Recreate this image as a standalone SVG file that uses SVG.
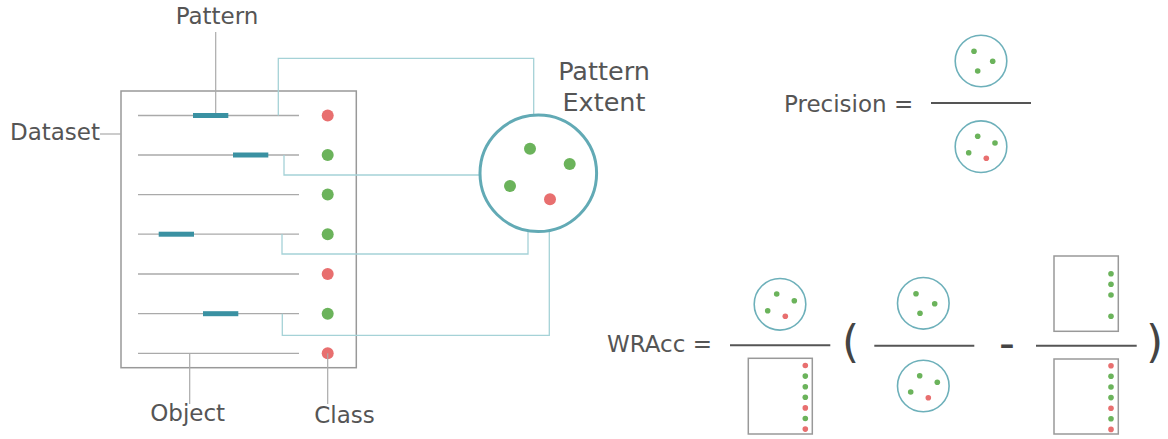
<svg xmlns="http://www.w3.org/2000/svg" width="1168" height="439" viewBox="0 0 1168 439">
<style>
.lbl{font-family:"DejaVu Sans","Liberation Sans",sans-serif;fill:#555;font-size:23px}
.big{font-family:"DejaVu Sans","Liberation Sans",sans-serif;fill:#444;font-size:44px}
.row{stroke:#aaa;stroke-width:1.3;fill:none}
.box{stroke:#999;stroke-width:1.5;fill:none}
.bar{fill:#3a91a2}
.g{fill:#6bb35b}
.r{fill:#e86f6f}
.conn{stroke:#a5d2d7;stroke-width:1.3;fill:none}
.lead{stroke:#aaa;stroke-width:1.2;fill:none}
.sc{stroke:#6db0ba;stroke-width:1.6;fill:#fff}
.frac{stroke:#555;stroke-width:2}
</style>

<g id="dataset">
<rect class="box" x="121" y="91" width="235.3" height="276.7"/>
<line class="row" x1="138" y1="115.5" x2="299" y2="115.5"/>
<line class="row" x1="138" y1="155" x2="299" y2="155"/>
<line class="row" x1="138" y1="194.6" x2="299" y2="194.6"/>
<line class="row" x1="138" y1="234.2" x2="299" y2="234.2"/>
<line class="row" x1="138" y1="274" x2="299" y2="274"/>
<line class="row" x1="138" y1="313.7" x2="299" y2="313.7"/>
<line class="row" x1="138" y1="353.3" x2="299" y2="353.3"/>
<rect class="bar" x="193" y="113" width="35.3" height="5"/>
<rect class="bar" x="233" y="152.5" width="35.3" height="5"/>
<rect class="bar" x="158.7" y="231.7" width="35.3" height="5"/>
<rect class="bar" x="203" y="311.2" width="35.3" height="5"/>
<circle class="r" cx="327.7" cy="115.5" r="6"/>
<circle class="g" cx="327.7" cy="155" r="6"/>
<circle class="g" cx="327.7" cy="194.6" r="6"/>
<circle class="g" cx="327.7" cy="234.2" r="6"/>
<circle class="r" cx="327.7" cy="274" r="6"/>
<circle class="g" cx="327.7" cy="313.7" r="6"/>
<circle class="r" cx="327.7" cy="353.3" r="6"/>
</g>

<g id="connectors">
<polyline class="conn" points="278.3,115.5 278.3,58.3 533.7,58.3 533.7,115.2"/>
<polyline class="conn" points="284,155 284,175 480,175"/>
<polyline class="conn" points="282,234 282,254 528,254 528,230.7"/>
<polyline class="conn" points="282.3,313.7 282.3,335.3 549.3,335.3 549.3,230.5"/>
<line class="lead" x1="215.7" y1="32" x2="215.7" y2="113"/>
<line class="lead" x1="100" y1="134" x2="121" y2="134"/>
<line class="lead" x1="189.7" y1="353.3" x2="189.7" y2="404"/>
<line class="lead" x1="327.7" y1="353.3" x2="327.7" y2="404"/>
</g>

<g id="labels">
<text class="lbl" x="217" y="24" text-anchor="middle">Pattern</text>
<text class="lbl" x="100" y="140" text-anchor="end">Dataset</text>
<text class="lbl" x="187.7" y="420.5" text-anchor="middle">Object</text>
<text class="lbl" x="344.5" y="422.5" text-anchor="middle">Class</text>
</g>

<g id="extent">
<circle cx="538.3" cy="173.3" r="58.3" fill="#fff" stroke="#62aab5" stroke-width="3"/>
<circle class="g" cx="530" cy="148.7" r="6"/>
<circle class="g" cx="569.7" cy="164" r="6"/>
<circle class="g" cx="510" cy="186" r="6"/>
<circle class="r" cx="550" cy="199.3" r="6"/>
<text class="lbl" x="604" y="80" text-anchor="middle" style="font-size:25.5px">Pattern</text>
<text class="lbl" x="604" y="111" text-anchor="middle" style="font-size:25.5px">Extent</text>
</g>

<g id="precision">
<text class="lbl" x="784" y="111.7">Precision =</text>
<line class="frac" x1="931" y1="103" x2="1031" y2="103"/>
<circle class="sc" cx="981" cy="61" r="25.8"/>
<circle class="g" cx="974" cy="51.3" r="2.8"/>
<circle class="g" cx="992.7" cy="61.3" r="2.8"/>
<circle class="g" cx="977.7" cy="71" r="2.8"/>
<circle class="sc" cx="981" cy="146.7" r="25.8"/>
<circle class="g" cx="977.7" cy="136.3" r="2.8"/>
<circle class="g" cx="995" cy="143" r="2.8"/>
<circle class="g" cx="968.7" cy="152.7" r="2.8"/>
<circle class="r" cx="986.3" cy="158.3" r="2.8"/>
</g>

<g id="wracc">
<text class="lbl" x="607" y="351.7">WRAcc =</text>
<line class="frac" x1="730" y1="345.3" x2="830.3" y2="345.3"/>
<circle class="sc" cx="780" cy="304.3" r="25.8"/>
<circle class="g" cx="776.7" cy="294" r="2.8"/>
<circle class="g" cx="794.3" cy="300.7" r="2.8"/>
<circle class="g" cx="767.7" cy="310.7" r="2.8"/>
<circle class="r" cx="785.3" cy="316.3" r="2.8"/>
<rect class="box" x="748.3" y="358.3" width="64" height="75.7"/>
<circle class="r" cx="805.3" cy="365.5" r="2.8"/>
<circle class="g" cx="805.3" cy="376.1" r="2.8"/>
<circle class="g" cx="805.3" cy="386.7" r="2.8"/>
<circle class="g" cx="805.3" cy="397.3" r="2.8"/>
<circle class="r" cx="805.3" cy="407.9" r="2.8"/>
<circle class="g" cx="805.3" cy="418.5" r="2.8"/>
<circle class="r" cx="805.3" cy="429.1" r="2.8"/>

<text class="big" x="842" y="357">(</text>

<line class="frac" x1="874.3" y1="345.7" x2="974.3" y2="345.7"/>
<circle class="sc" cx="923.3" cy="303.3" r="25.8"/>
<circle class="g" cx="916" cy="293.7" r="2.8"/>
<circle class="g" cx="934.7" cy="303.7" r="2.8"/>
<circle class="g" cx="920" cy="313.3" r="2.8"/>
<circle class="sc" cx="923.3" cy="386" r="25.8"/>
<circle class="g" cx="919.7" cy="375.7" r="2.8"/>
<circle class="g" cx="937.3" cy="382.3" r="2.8"/>
<circle class="g" cx="910.7" cy="392" r="2.8"/>
<circle class="r" cx="928.3" cy="397.7" r="2.8"/>

<text class="big" x="999" y="358">-</text>

<line class="frac" x1="1036" y1="345.7" x2="1136.7" y2="345.7"/>
<rect class="box" x="1054" y="256" width="64.3" height="75.3"/>
<circle class="g" cx="1111" cy="273.7" r="2.8"/>
<circle class="g" cx="1111" cy="284.3" r="2.8"/>
<circle class="g" cx="1111" cy="295" r="2.8"/>
<circle class="g" cx="1111" cy="316.2" r="2.8"/>
<rect class="box" x="1054" y="359" width="64.3" height="75"/>
<circle class="r" cx="1111" cy="365.7" r="2.8"/>
<circle class="g" cx="1111" cy="376.3" r="2.8"/>
<circle class="g" cx="1111" cy="387" r="2.8"/>
<circle class="g" cx="1111" cy="397.6" r="2.8"/>
<circle class="r" cx="1111" cy="408.2" r="2.8"/>
<circle class="g" cx="1111" cy="418.8" r="2.8"/>
<circle class="r" cx="1111" cy="429.4" r="2.8"/>

<text class="big" x="1146" y="357">)</text>
</g>
</svg>
